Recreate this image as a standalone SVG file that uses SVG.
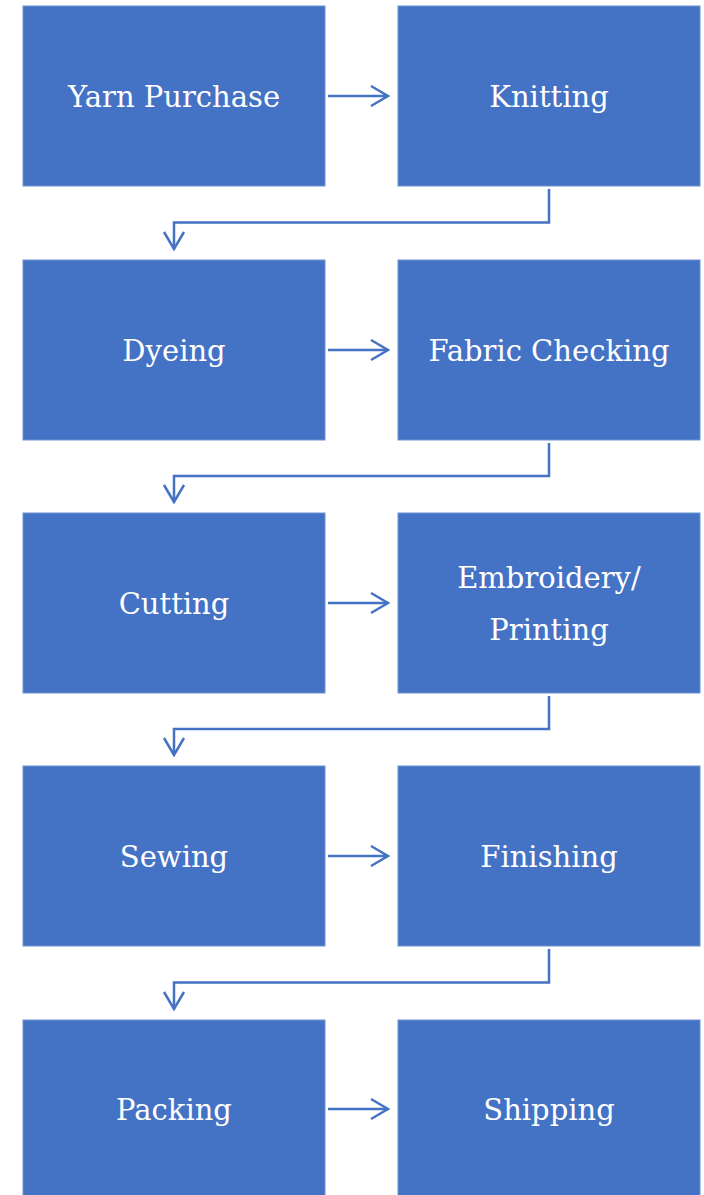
<svg xmlns="http://www.w3.org/2000/svg" width="704" height="1195" viewBox="0 0 704 1195">
<defs>
<style>
.box{fill:#4472C4;stroke:#6f93d3;stroke-width:1}
.lbl{fill:#ffffff;font-family:"DejaVu Serif","Liberation Serif",serif;font-size:29px;text-anchor:middle}
.con{fill:none;stroke:#4472C4;stroke-width:2.5}
</style>
<marker id="ah" viewBox="0 0 20 24" refX="18" refY="12" markerWidth="20" markerHeight="24" markerUnits="userSpaceOnUse" orient="auto">
<path d="M1,2 L18,12 L1,22" fill="none" stroke="#4472C4" stroke-width="2.5"/>
</marker>
</defs>
<rect width="704" height="1195" fill="#ffffff"/>
<g id="n1"><rect class="box" x="23" y="6" width="302" height="180"/><text class="lbl" x="174" y="107">Yarn Purchase</text></g>
<g id="n2"><rect class="box" x="398" y="6" width="302" height="180"/><text class="lbl" x="549" y="107">Knitting</text></g>
<g id="n3"><rect class="box" x="23" y="260" width="302" height="180"/><text class="lbl" x="174" y="361">Dyeing</text></g>
<g id="n4"><rect class="box" x="398" y="260" width="302" height="180"/><text class="lbl" x="549" y="361">Fabric Checking</text></g>
<g id="n5"><rect class="box" x="23" y="513" width="302" height="180"/><text class="lbl" x="174" y="614">Cutting</text></g>
<g id="n6"><rect class="box" x="398" y="513" width="302" height="180"/><text class="lbl" x="549" y="588">Embroidery/</text><text class="lbl" x="549" y="640">Printing</text></g>
<g id="n7"><rect class="box" x="23" y="766" width="302" height="180"/><text class="lbl" x="174" y="867">Sewing</text></g>
<g id="n8"><rect class="box" x="398" y="766" width="302" height="180"/><text class="lbl" x="549" y="867">Finishing</text></g>
<g id="n9"><rect class="box" x="23" y="1020" width="302" height="180"/><text class="lbl" x="174" y="1120">Packing</text></g>
<g id="n10"><rect class="box" x="398" y="1020" width="302" height="180"/><text class="lbl" x="549" y="1120">Shipping</text></g>
<g id="connectors">
<path class="con" d="M328,96 H388" marker-end="url(#ah)"/>
<path class="con" d="M549,189 V222.5 H174 V249" marker-end="url(#ah)"/>
<path class="con" d="M328,350 H388" marker-end="url(#ah)"/>
<path class="con" d="M549,443 V476 H174 V502" marker-end="url(#ah)"/>
<path class="con" d="M328,603 H388" marker-end="url(#ah)"/>
<path class="con" d="M549,696 V729 H174 V755" marker-end="url(#ah)"/>
<path class="con" d="M328,856 H388" marker-end="url(#ah)"/>
<path class="con" d="M549,949 V982.5 H174 V1009" marker-end="url(#ah)"/>
<path class="con" d="M328,1109 H388" marker-end="url(#ah)"/>
</g>
</svg>
